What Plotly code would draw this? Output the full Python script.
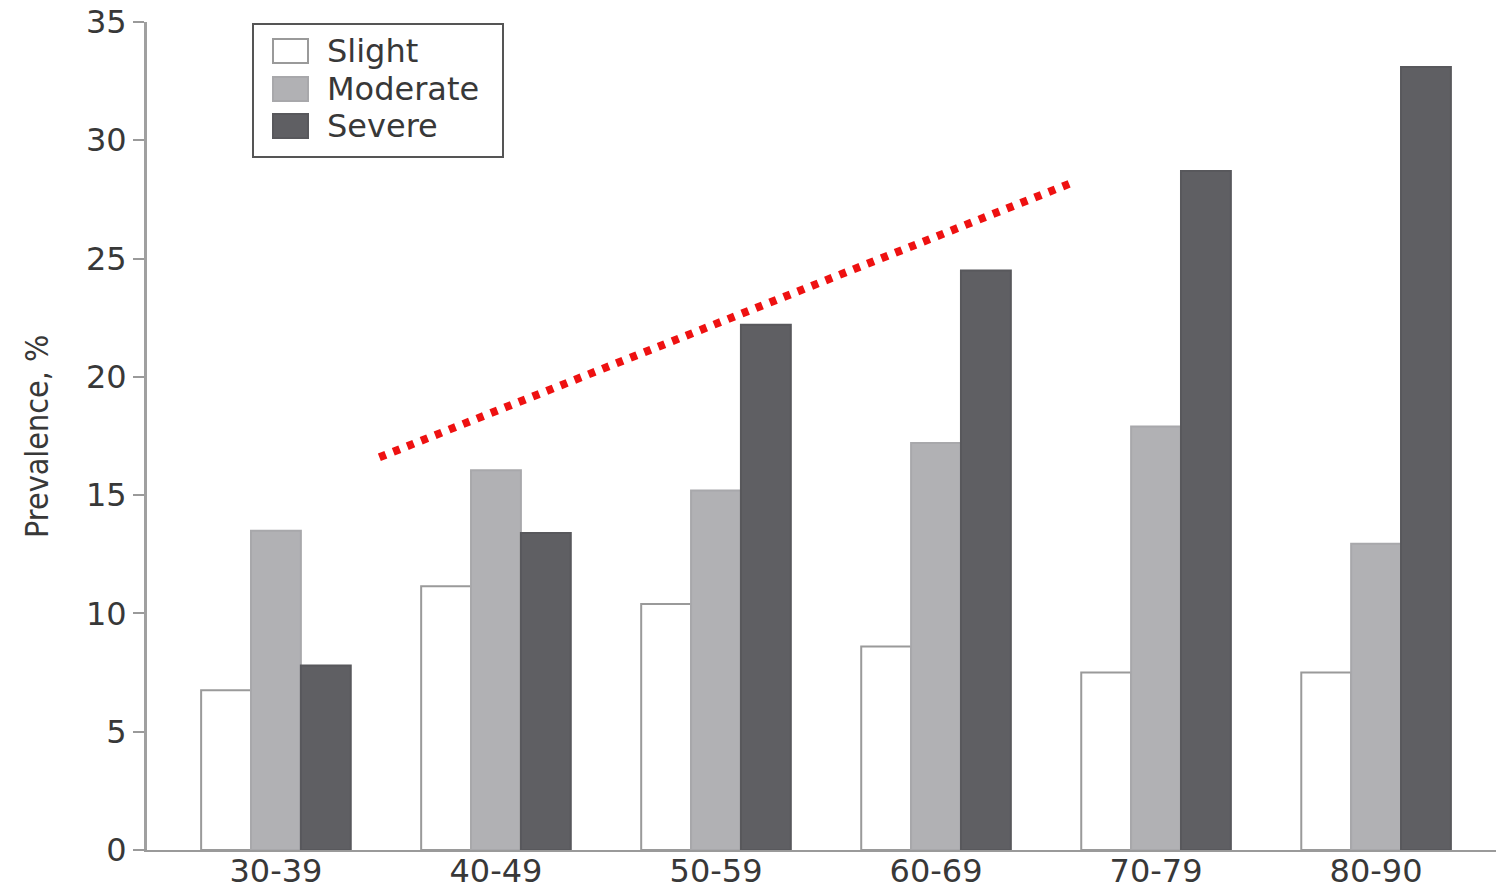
import plotly.graph_objects as go

# ---- data ----
age_groups = ["30-39", "40-49", "50-59", "60-69", "70-79", "80-90"]
series_names = ["Slight", "Moderate", "Severe"]
slight = [6.75, 11.15, 10.4, 8.6, 7.5, 7.5]
moderate = [13.5, 16.05, 15.2, 17.2, 17.9, 12.95]
severe = [7.8, 13.4, 22.2, 24.5, 28.7, 33.1]
trend_x = [0.47, 3.63]      # category-index positions of the red trend line ends
trend_y = [16.6, 28.25]
y_ticks = [0, 5, 10, 15, 20, 25, 30, 35]

# ---- style ----
fills = ["#ffffff", "#b1b1b4", "#5f5f63"]
outlines = ["#9a9a9a", "#a8a8ab", "#58585c"]
font_main = "DejaVu Sans, Arial, sans-serif"
TXT = "#383838"

OFF = 0  # page body margin removed via post_script
W, H = 1498 - OFF, 892 - OFF
ML, MR, MT, MB = 147 - OFF, 2, 22 - OFF, 42
PW, PH = W - ML - MR, H - MT - MB

def px(x):
    return (x - OFF - ML) / PW

def py(y):
    return 1 - (y - OFF - MT) / PH

fig = go.Figure()
for name, vals, fc, lc in zip(series_names, [slight, moderate, severe], fills, outlines):
    fig.add_trace(go.Bar(
        x=list(range(len(age_groups))), y=vals, name=name,
        marker=dict(color=fc, line=dict(color=lc, width=2)),
        showlegend=False,
    ))

fig.add_trace(go.Scatter(
    x=trend_x, y=trend_y, mode="lines",
    line=dict(color="#ee1111", width=8, dash="7px,8px"),
    showlegend=False, hoverinfo="skip",
))

shapes = []
annotations = []
# manual legend (large swatches like the original)
shapes.append(dict(type="rect", xref="paper", yref="paper",
                   x0=px(253), x1=px(503), y0=py(157), y1=py(24),
                   line=dict(color="#555555", width=2), fillcolor="white", layer="above"))
leg_y = [51, 89, 126]
for name, fc, lc, yc in zip(series_names, fills, outlines, leg_y):
    shapes.append(dict(type="rect", xref="paper", yref="paper",
                       x0=px(273), x1=px(308), y0=py(yc + 12), y1=py(yc - 12),
                       line=dict(color=lc, width=2), fillcolor=fc, layer="above"))
    annotations.append(dict(text=name, xref="paper", yref="paper",
                            x=px(325), y=py(yc), xanchor="left", yanchor="middle",
                            showarrow=False, font=dict(size=32, color=TXT, family=font_main)))

# y-axis title placed like the original (condensed, rotated)
annotations.append(dict(text="Prevalence, %", xref="paper", yref="paper",
                        x=px(37), y=py(437), xanchor="center", yanchor="middle",
                        textangle=-90, showarrow=False,
                        font=dict(size=32, color=TXT,
                                  family="Liberation Sans Narrow, DejaVu Sans Condensed, sans-serif")))

# x-axis line extension to the left of the y axis
shapes.append(dict(type="line", xref="paper", yref="paper",
                   x0=px(135), x1=px(147), y0=0, y1=0,
                   line=dict(color="#9a9a9a", width=2)))

fig.update_layout(
    width=W, height=H,
    margin=dict(l=ML, r=MR, t=MT, b=MB),
    paper_bgcolor="white", plot_bgcolor="white",
    barmode="group", bargap=0.32, bargroupgap=0,
    shapes=shapes, annotations=annotations,
    font=dict(family=font_main, color=TXT),
    xaxis=dict(
        range=[-0.586, 5.545], automargin=False,
        tickmode="array", tickvals=list(range(len(age_groups))), ticktext=age_groups,
        showline=True, linecolor="#9a9a9a", linewidth=2,
        showgrid=False, zeroline=False, ticks="",
        tickfont=dict(size=32, color=TXT),
        ticklabelstandoff=-8, ticklabeloverflow="allow",
    ),
    yaxis=dict(
        range=[0, 35], tickvals=y_ticks, automargin=False,
        showline=True, linecolor="#a0a0a0", linewidth=3,
        showgrid=False, zeroline=False,
        ticks="outside", ticklen=11, tickwidth=2, tickcolor="#9a9a9a",
        tickfont=dict(size=32, color=TXT),
        ticklabeloverflow="allow",
    ),
)

fig.write_html(
    "out.html",
    config={"displayModeBar": False},
    post_script="document.body.style.margin='0';document.body.style.overflow='hidden';",
)
